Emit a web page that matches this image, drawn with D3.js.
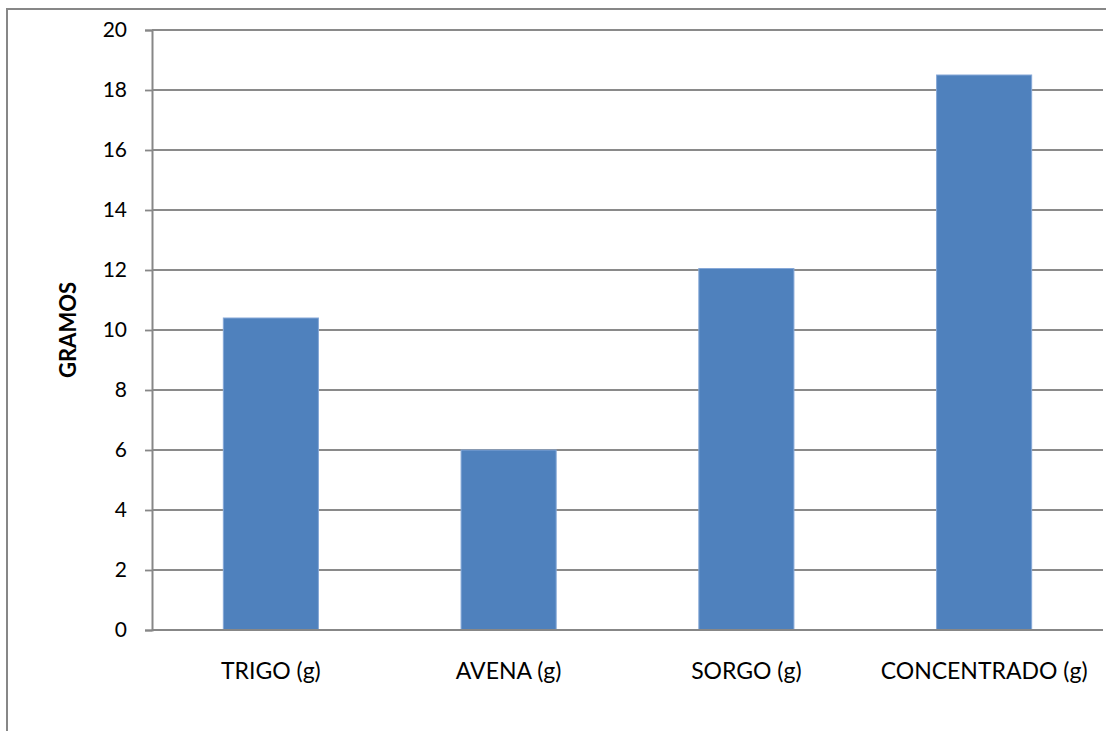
<!DOCTYPE html>
<html>
<head>
<meta charset="utf-8">
<script src="https://cdn.jsdelivr.net/npm/d3@7"></script>
<style>
	body { margin: 0; background: white; }
	text { font-family: Lato, "Open Sans", sans-serif; fill: #000; }
</style>
</head>
<body>
<script>
// data
var categories = ['TRIGO (g)', 'AVENA (g)', 'SORGO (g)', 'CONCENTRADO (g)']
var values = [10.4, 6.0, 12.05, 18.5]
var yTicks = [0, 2, 4, 6, 8, 10, 12, 14, 16, 18, 20]
var yLabel = 'GRAMOS'

var width = 1106,
	height = 731

var margin = {top: 30, right: 3, bottom: 101, left: 152}
var plotW = width - margin.left - margin.right,
	plotH = height - margin.top - margin.bottom

var svg = d3.select('body').append('svg')
	.attr('width', width)
	.attr('height', height)

// outer chart border (right and bottom run off the page)
svg.append('rect')
	.attr('x', 7)
	.attr('y', 9)
	.attr('width', width + 20)
	.attr('height', height + 20)
	.attr('fill', 'none')
	.attr('stroke', '#878787')
	.attr('stroke-width', 2)

var g = svg.append('g')
	.attr('transform', 'translate(' + margin.left + ',' + margin.top + ')')

var x = d3.scaleBand()
	.domain(categories)
	.range([0, plotW])
	.paddingInner(0.6)
	.paddingOuter(0.3)

var xBand = d3.scaleBand()
	.domain(categories)
	.range([0, plotW])

var y = d3.scaleLinear()
	.domain([0, 20])
	.range([plotH, 0])

// gridlines
g.selectAll('.grid')
	.data(yTicks.filter(d => d > 0))
	.enter()
	.append('line')
		.attr('x1', 0)
		.attr('x2', plotW)
		.attr('y1', d => y(d))
		.attr('y2', d => y(d))
		.attr('stroke', '#8a8a8a')
		.attr('stroke-width', 1.8)

// bars
g.selectAll('rect.bar')
	.data(values)
	.enter()
	.append('rect')
		.attr('class', 'bar')
		.attr('x', (d, i) => x(categories[i]))
		.attr('y', d => y(d))
		.attr('width', x.bandwidth())
		.attr('height', d => plotH - y(d))
		.attr('fill', '#4F81BD')
		.attr('stroke', '#86a8d8')
		.attr('stroke-width', 1)

// y axis
var yAxis = g.append('g')
	.call(d3.axisLeft(y).tickValues(yTicks).tickSize(7).tickPadding(18))
yAxis.select('.domain').attr('stroke', '#878787').attr('stroke-width', 2)
yAxis.selectAll('.tick line').attr('stroke', '#878787').attr('stroke-width', 1.8)
yAxis.selectAll('.tick text')
	.attr('font-size', '21px')
	.attr('font-family', 'Lato, sans-serif')
	.attr('fill', '#000')

// x axis line
g.append('line')
	.attr('x1', 0)
	.attr('x2', plotW)
	.attr('y1', plotH)
	.attr('y2', plotH)
	.attr('stroke', '#878787')
	.attr('stroke-width', 2)

// x labels
g.selectAll('.xlabel')
	.data(categories)
	.enter()
	.append('text')
		.attr('x', d => xBand(d) + xBand.bandwidth() / 2)
		.attr('y', plotH + 49)
		.attr('text-anchor', 'middle')
		.attr('font-size', '23px')
		.text(d => d)

// y title
svg.append('text')
	.attr('transform', 'translate(76,' + (margin.top + plotH / 2) + ') rotate(-90)')
	.attr('text-anchor', 'middle')
	.attr('font-size', '22px')
	.attr('font-weight', 'bold')
	.text(yLabel)
</script>
</body>
</html>
